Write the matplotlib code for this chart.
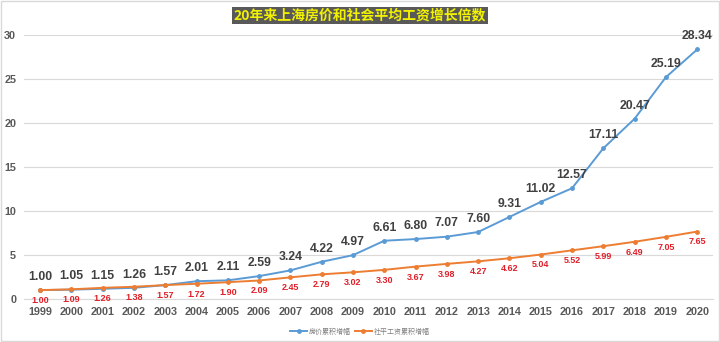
import matplotlib.pyplot as plt

plt.rcParams['font.family'] = ['Noto Sans CJK SC', 'DejaVu Sans']

years = [str(y) for y in range(1999, 2021)]
house = [1.00, 1.05, 1.15, 1.26, 1.57, 2.01, 2.11, 2.59, 3.24, 4.22, 4.97,
         6.61, 6.80, 7.07, 7.60, 9.31, 11.02, 12.57, 17.11, 20.47, 25.19, 28.34]
wage = [1.00, 1.09, 1.26, 1.38, 1.57, 1.72, 1.90, 2.09, 2.45, 2.79, 3.02,
        3.30, 3.67, 3.98, 4.27, 4.62, 5.04, 5.52, 5.99, 6.49, 7.05, 7.65]
yticks = [0, 5, 10, 15, 20, 25, 30]

num_font = ['Liberation Sans', 'DejaVu Sans']

fig = plt.figure(figsize=(7.2, 3.42), dpi=100)
ax = fig.add_axes([0.034, 0.126, 0.956, 0.772])

x = list(range(len(years)))
ax.plot(x, house, color='#5B9BD5', lw=1.4, marker='o', ms=2.5, label='房价累积增幅')
ax.plot(x, wage, color='#ED7D31', lw=1.4, marker='o', ms=2.5, label='社平工资累积增幅')

for i, v in enumerate(house):
    ax.annotate(f'{v:.2f}', (i, v), xytext=(0, 9.5), textcoords='offset points',
                ha='center', va='center', fontsize=8.8, fontweight='bold',
                color='#404040', family=num_font)
for i, v in enumerate(wage):
    ax.annotate(f'{v:.2f}', (i, v), xytext=(0, -7.5), textcoords='offset points',
                ha='center', va='center', fontsize=6.5, fontweight='bold',
                color='#E0202A', family=num_font)

ax.set_xlim(-0.5, len(years) - 0.5)
ax.set_ylim(0, 30)
ax.set_yticks(yticks)
ax.set_xticks(x)
ax.set_xticklabels(years)
ax.tick_params(axis='both', length=0, labelsize=7.8, labelcolor='#595959')
ax.tick_params(axis='x', pad=6)
ax.tick_params(axis='y', pad=6)
for lab in ax.get_xticklabels() + ax.get_yticklabels():
    lab.set_fontweight('bold')
    lab.set_family(num_font)
ax.grid(axis='y', color='#D9D9D9', lw=0.8)
ax.set_axisbelow(True)
for s in ['top', 'right', 'left']:
    ax.spines[s].set_visible(False)
ax.spines['bottom'].set_color('#D9D9D9')

fig.text(0.5, 0.955, '20年来上海房价和社会平均工资增长倍数', ha='center', va='center',
         fontsize=10, fontweight='bold', color='#F2F200',
         bbox=dict(boxstyle='square,pad=0.12', fc='#595959', ec='none'))

fig.legend(loc='lower center', bbox_to_anchor=(0.5, 0.0), ncol=2, fontsize=5,
           frameon=False, handlelength=2.5, columnspacing=0.5, handletextpad=0.3,
           labelcolor='#7F7F7F')

fig.patches.append(plt.Rectangle((0.002, 0.003), 0.996, 0.994, transform=fig.transFigure,
                                 fill=False, ec='#D9D9D9', lw=1))

fig.savefig('out.png', dpi=100)
